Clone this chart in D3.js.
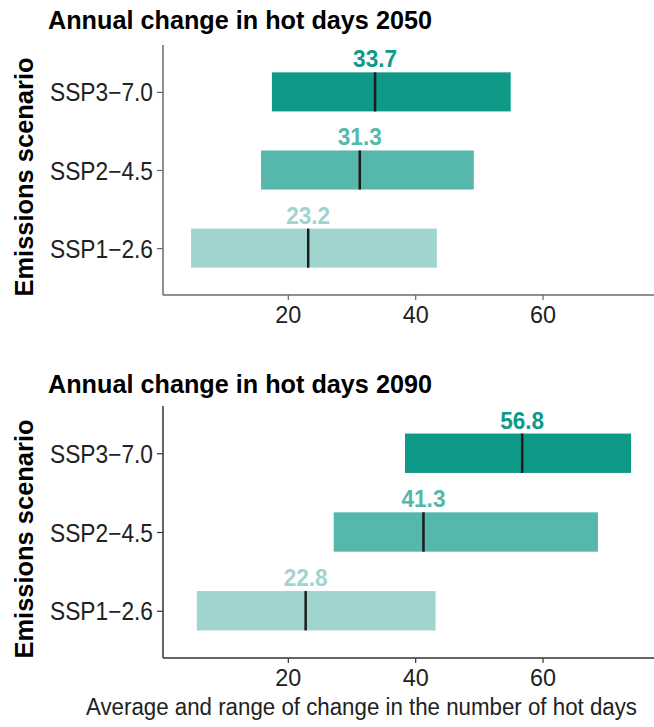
<!DOCTYPE html>
<html><head><meta charset="utf-8">
<script src="https://cdn.jsdelivr.net/npm/d3@7"></script>
<style>body{margin:0;background:#fff}svg{display:block}</style>
</head><body>
<script>
const scenarios = ["SSP3−7.0", "SSP2−4.5", "SSP1−2.6"];
const mean2050 = [33.7, 31.3, 23.2];
const low2050  = [17.5, 15.8, 4.8];
const high2050 = [55.0, 49.2, 43.4];
const mean2090 = [56.8, 41.3, 22.8];
const low2090  = [38.4, 27.2, 5.7];
const high2090 = [73.9, 68.7, 43.2];
const xTicks = [20, 40, 60];
const titles = ["Annual change in hot days 2050", "Annual change in hot days 2090"];
const colors = ["#0e9a87", "#56b7ab", "#a0d5cf"];

const W = 654, H = 727;
const svg = d3.select("body").append("svg").attr("width", W).attr("height", H);
const font = "'Liberation Sans', Arial, sans-serif";

const x = d3.scaleLinear().domain([0.4, 77.5]).range([163, 654]);

const panels = [
  {title: titles[0], mean: mean2050, low: low2050, high: high2050, top: 45, bottom: 295, titleY: 29, axisColor: "#6a6a6a"},
  {title: titles[1], mean: mean2090, low: low2090, high: high2090, top: 406, bottom: 658, titleY: 393, axisColor: "#333"}
];

function fitText(sel, len) {
  sel.attr("textLength", len).attr("lengthAdjust", "spacingAndGlyphs");
}

panels.forEach(p => {
  const g = svg.append("g");
  const y = d3.scalePoint().domain(scenarios).range([p.top, p.bottom]).padding(0.6);
  const bh = y.step() * 0.5;
  const rows = scenarios.map((s, i) => ({s, mean: p.mean[i], low: p.low[i], high: p.high[i], c: colors[i]}));

  // title
  g.append("text").attr("x", 48).attr("y", p.titleY)
    .attr("font-family", font).attr("font-weight", "bold").attr("font-size", 25)
    .attr("fill", "#000").text(p.title).call(fitText, 384);

  // y axis title
  const cy = (p.top + p.bottom) / 2 + 7;
  g.append("text").attr("transform", `translate(33,${cy}) rotate(-90)`)
    .attr("text-anchor", "middle").attr("font-family", font).attr("font-weight", "bold")
    .attr("font-size", 26).attr("fill", "#000").text("Emissions scenario").call(fitText, 239);

  // bars
  g.selectAll("rect.bar").data(rows).enter().append("rect")
    .attr("x", d => x(d.low)).attr("width", d => x(d.high) - x(d.low))
    .attr("y", d => y(d.s) - bh / 2).attr("height", bh).attr("fill", d => d.c);

  // median lines
  g.selectAll("line.med").data(rows).enter().append("line")
    .attr("x1", d => x(d.mean)).attr("x2", d => x(d.mean))
    .attr("y1", d => y(d.s) - bh / 2).attr("y2", d => y(d.s) + bh / 2)
    .attr("stroke", "#1c1c1c").attr("stroke-width", 2.5);

  // value labels
  g.selectAll("text.val").data(rows).enter().append("text")
    .attr("x", d => x(d.mean)).attr("y", d => y(d.s) - bh / 2 - 5)
    .attr("text-anchor", "middle").attr("font-family", font).attr("font-weight", "bold")
    .attr("font-size", 24).attr("fill", d => d.c).text(d => d.mean.toFixed(1))
    .call(fitText, 44);

  // y axis
  const ya = g.append("g").attr("transform", "translate(163,0)")
    .call(d3.axisLeft(y).tickSize(6).tickPadding(4));
  ya.select(".domain").attr("d", `M0,${p.top}V${p.bottom}`).attr("stroke", p.axisColor).attr("stroke-width", 1.5);
  ya.selectAll(".tick line").attr("stroke", p.axisColor).attr("stroke-width", 1.2);
  ya.selectAll(".tick text").attr("font-family", font).attr("font-size", 25)
    .attr("fill", "#222").attr("dy", "0.36em").call(fitText, 103);

  // x axis
  const xa = g.append("g").attr("transform", `translate(0,${p.bottom})`)
    .call(d3.axisBottom(x).tickValues(xTicks).tickSize(5).tickPadding(6).tickFormat(d3.format("d")));
  xa.select(".domain").attr("d", `M163,0H654`).attr("stroke", p.axisColor).attr("stroke-width", 1.5);
  xa.selectAll(".tick line").attr("stroke", p.axisColor).attr("stroke-width", 1.2);
  xa.selectAll(".tick text").attr("font-family", font).attr("font-size", 24).attr("fill", "#222")
    .call(fitText, 26);
});

svg.append("text").attr("x", 86).attr("y", 715)
  .attr("font-family", font).attr("font-size", 23).attr("fill", "#222")
  .text("Average and range of change in the number of hot days").call(fitText, 551);
</script>
</body></html>
